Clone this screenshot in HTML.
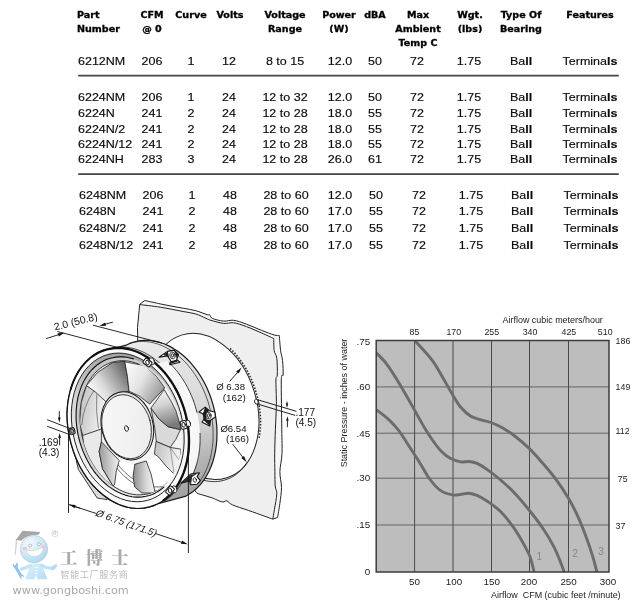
<!DOCTYPE html>
<html lang="en"><head><meta charset="utf-8"><title>6200N Series Fan Specifications</title>
<style>
html,body{margin:0;padding:0;background:#fff;}
body{width:632px;height:610px;position:relative;overflow:hidden;font-family:"Liberation Sans",sans-serif;color:#111;}
#tbl,#art{will-change:transform;}
#tbl span{position:absolute;white-space:nowrap;line-height:20px;}
#tbl span.c{transform:translateX(-50%);}
#tbl span.h.c{transform:translateX(-50%) scaleX(1.079);}
#tbl span.h.l{transform:scaleX(1.079);transform-origin:0 50%;}
#tbl span.d.c{transform:translateX(-50%) scaleX(1.064);}
#tbl span.d.l{transform:scaleX(1.064);transform-origin:0 50%;}
#tbl .d{font-size:11.75px;color:#0a0a0a;-webkit-text-stroke:0.15px #0a0a0a;}
#tbl .h{font-family:"DejaVu Sans","Liberation Sans",sans-serif;font-weight:bold;font-size:8.9px;color:#000;-webkit-text-stroke:0.3px #000;}
.rule{position:absolute;left:78px;width:541px;height:0;border-top:1.6px solid #4a4a4a;}
svg{position:absolute;left:0;top:0;}
svg text{font-family:"Liberation Sans",sans-serif;}
</style></head><body>
<div id="tbl">
<span class="h l" style="left:77.1px;top:5.12px">Part</span>
<span class="h l" style="left:77.1px;top:19.32px">Number</span>
<span class="h c" style="left:152.2px;top:5.12px">CFM</span>
<span class="h c" style="left:152.2px;top:19.32px">@ 0</span>
<span class="h c" style="left:190.7px;top:5.12px">Curve</span>
<span class="h c" style="left:229.9px;top:5.12px">Volts</span>
<span class="h c" style="left:284.8px;top:5.12px">Voltage</span>
<span class="h c" style="left:284.8px;top:19.32px">Range</span>
<span class="h c" style="left:339.2px;top:5.12px">Power</span>
<span class="h c" style="left:339.2px;top:19.32px">(W)</span>
<span class="h c" style="left:375.4px;top:5.12px">dBA</span>
<span class="h c" style="left:417.8px;top:5.12px">Max</span>
<span class="h c" style="left:417.8px;top:19.32px">Ambient</span>
<span class="h c" style="left:417.8px;top:33.42px">Temp C</span>
<span class="h c" style="left:469.5px;top:5.12px">Wgt.</span>
<span class="h c" style="left:469.5px;top:19.32px">(lbs)</span>
<span class="h c" style="left:520.6px;top:5.12px">Type Of</span>
<span class="h c" style="left:520.6px;top:19.32px">Bearing</span>
<span class="h c" style="left:589.5px;top:5.12px">Features</span>
<span class="d l" style="left:77.7px;top:50.83px">6212NM</span>
<span class="d c" style="left:151.9px;top:50.83px">206</span>
<span class="d c" style="left:190.6px;top:50.83px">1</span>
<span class="d c" style="left:228.6px;top:50.83px">12</span>
<span class="d c" style="left:285.2px;top:50.83px">8 to 15</span>
<span class="d c" style="left:339.7px;top:50.83px">12.0</span>
<span class="d c" style="left:375.0px;top:50.83px">50</span>
<span class="d c" style="left:417.2px;top:50.83px">72</span>
<span class="d c" style="left:469.4px;top:50.83px">1.75</span>
<span class="d c" style="left:521.1px;top:50.83px">Ba<b>ll</b></span>
<span class="d c" style="left:589.7px;top:50.83px">Termina<b>ls</b></span>
<span class="d l" style="left:77.7px;top:86.63px">6224NM</span>
<span class="d c" style="left:151.9px;top:86.63px">206</span>
<span class="d c" style="left:190.6px;top:86.63px">1</span>
<span class="d c" style="left:228.6px;top:86.63px">24</span>
<span class="d c" style="left:285.2px;top:86.63px">12 to 32</span>
<span class="d c" style="left:339.7px;top:86.63px">12.0</span>
<span class="d c" style="left:375.0px;top:86.63px">50</span>
<span class="d c" style="left:417.2px;top:86.63px">72</span>
<span class="d c" style="left:469.4px;top:86.63px">1.75</span>
<span class="d c" style="left:521.1px;top:86.63px">Ba<b>ll</b></span>
<span class="d c" style="left:589.7px;top:86.63px">Termina<b>ls</b></span>
<span class="d l" style="left:77.7px;top:103.23px">6224N</span>
<span class="d c" style="left:151.9px;top:103.23px">241</span>
<span class="d c" style="left:190.6px;top:103.23px">2</span>
<span class="d c" style="left:228.6px;top:103.23px">24</span>
<span class="d c" style="left:285.2px;top:103.23px">12 to 28</span>
<span class="d c" style="left:339.7px;top:103.23px">18.0</span>
<span class="d c" style="left:375.0px;top:103.23px">55</span>
<span class="d c" style="left:417.2px;top:103.23px">72</span>
<span class="d c" style="left:469.4px;top:103.23px">1.75</span>
<span class="d c" style="left:521.1px;top:103.23px">Ba<b>ll</b></span>
<span class="d c" style="left:589.7px;top:103.23px">Termina<b>ls</b></span>
<span class="d l" style="left:77.7px;top:118.63px">6224N/2</span>
<span class="d c" style="left:151.9px;top:118.63px">241</span>
<span class="d c" style="left:190.6px;top:118.63px">2</span>
<span class="d c" style="left:228.6px;top:118.63px">24</span>
<span class="d c" style="left:285.2px;top:118.63px">12 to 28</span>
<span class="d c" style="left:339.7px;top:118.63px">18.0</span>
<span class="d c" style="left:375.0px;top:118.63px">55</span>
<span class="d c" style="left:417.2px;top:118.63px">72</span>
<span class="d c" style="left:469.4px;top:118.63px">1.75</span>
<span class="d c" style="left:521.1px;top:118.63px">Ba<b>ll</b></span>
<span class="d c" style="left:589.7px;top:118.63px">Termina<b>ls</b></span>
<span class="d l" style="left:77.7px;top:134.03px">6224N/12</span>
<span class="d c" style="left:151.9px;top:134.03px">241</span>
<span class="d c" style="left:190.6px;top:134.03px">2</span>
<span class="d c" style="left:228.6px;top:134.03px">24</span>
<span class="d c" style="left:285.2px;top:134.03px">12 to 28</span>
<span class="d c" style="left:339.7px;top:134.03px">18.0</span>
<span class="d c" style="left:375.0px;top:134.03px">55</span>
<span class="d c" style="left:417.2px;top:134.03px">72</span>
<span class="d c" style="left:469.4px;top:134.03px">1.75</span>
<span class="d c" style="left:521.1px;top:134.03px">Ba<b>ll</b></span>
<span class="d c" style="left:589.7px;top:134.03px">Termina<b>ls</b></span>
<span class="d l" style="left:77.7px;top:149.13px">6224NH</span>
<span class="d c" style="left:151.9px;top:149.13px">283</span>
<span class="d c" style="left:190.6px;top:149.13px">3</span>
<span class="d c" style="left:228.6px;top:149.13px">24</span>
<span class="d c" style="left:285.2px;top:149.13px">12 to 28</span>
<span class="d c" style="left:339.7px;top:149.13px">26.0</span>
<span class="d c" style="left:375.0px;top:149.13px">61</span>
<span class="d c" style="left:417.2px;top:149.13px">72</span>
<span class="d c" style="left:469.4px;top:149.13px">1.75</span>
<span class="d c" style="left:521.1px;top:149.13px">Ba<b>ll</b></span>
<span class="d c" style="left:589.7px;top:149.13px">Termina<b>ls</b></span>
<span class="d l" style="left:79.0px;top:184.83px">6248NM</span>
<span class="d c" style="left:153.2px;top:184.83px">206</span>
<span class="d c" style="left:191.9px;top:184.83px">1</span>
<span class="d c" style="left:229.9px;top:184.83px">48</span>
<span class="d c" style="left:285.8px;top:184.83px">28 to 60</span>
<span class="d c" style="left:340.3px;top:184.83px">12.0</span>
<span class="d c" style="left:376.3px;top:184.83px">50</span>
<span class="d c" style="left:418.5px;top:184.83px">72</span>
<span class="d c" style="left:470.7px;top:184.83px">1.75</span>
<span class="d c" style="left:522.4px;top:184.83px">Ba<b>ll</b></span>
<span class="d c" style="left:591.0px;top:184.83px">Termina<b>ls</b></span>
<span class="d l" style="left:79.0px;top:201.43px">6248N</span>
<span class="d c" style="left:153.2px;top:201.43px">241</span>
<span class="d c" style="left:191.9px;top:201.43px">2</span>
<span class="d c" style="left:229.9px;top:201.43px">48</span>
<span class="d c" style="left:285.8px;top:201.43px">28 to 60</span>
<span class="d c" style="left:340.3px;top:201.43px">17.0</span>
<span class="d c" style="left:376.3px;top:201.43px">55</span>
<span class="d c" style="left:418.5px;top:201.43px">72</span>
<span class="d c" style="left:470.7px;top:201.43px">1.75</span>
<span class="d c" style="left:522.4px;top:201.43px">Ba<b>ll</b></span>
<span class="d c" style="left:591.0px;top:201.43px">Termina<b>ls</b></span>
<span class="d l" style="left:79.0px;top:218.03px">6248N/2</span>
<span class="d c" style="left:153.2px;top:218.03px">241</span>
<span class="d c" style="left:191.9px;top:218.03px">2</span>
<span class="d c" style="left:229.9px;top:218.03px">48</span>
<span class="d c" style="left:285.8px;top:218.03px">28 to 60</span>
<span class="d c" style="left:340.3px;top:218.03px">17.0</span>
<span class="d c" style="left:376.3px;top:218.03px">55</span>
<span class="d c" style="left:418.5px;top:218.03px">72</span>
<span class="d c" style="left:470.7px;top:218.03px">1.75</span>
<span class="d c" style="left:522.4px;top:218.03px">Ba<b>ll</b></span>
<span class="d c" style="left:591.0px;top:218.03px">Termina<b>ls</b></span>
<span class="d l" style="left:79.0px;top:234.73px">6248N/12</span>
<span class="d c" style="left:153.2px;top:234.73px">241</span>
<span class="d c" style="left:191.9px;top:234.73px">2</span>
<span class="d c" style="left:229.9px;top:234.73px">48</span>
<span class="d c" style="left:285.8px;top:234.73px">28 to 60</span>
<span class="d c" style="left:340.3px;top:234.73px">17.0</span>
<span class="d c" style="left:376.3px;top:234.73px">55</span>
<span class="d c" style="left:418.5px;top:234.73px">72</span>
<span class="d c" style="left:470.7px;top:234.73px">1.75</span>
<span class="d c" style="left:522.4px;top:234.73px">Ba<b>ll</b></span>
<span class="d c" style="left:591.0px;top:234.73px">Termina<b>ls</b></span>
</div>
<svg id="art" width="632" height="610" viewBox="0 0 632 610">
<g id="rules" stroke="#454545" stroke-width="1.7"><line x1="78.2" y1="75.6" x2="618.8" y2="75.6"/><line x1="78.2" y1="174.1" x2="618.8" y2="174.1"/></g>
<g id="fan" stroke-linejoin="round" stroke-linecap="round">
<defs>
<linearGradient id="gA" x1="0.1" y1="0.85" x2="1" y2="0.3"><stop offset="0" stop-color="#fff"/><stop offset="0.35" stop-color="#dcdcdc"/><stop offset="0.72" stop-color="#9c9c9c"/><stop offset="1" stop-color="#666"/></linearGradient>
<linearGradient id="gB" x1="0" y1="0" x2="1" y2="0.6"><stop offset="0" stop-color="#fff"/><stop offset="0.5" stop-color="#e4e4e4"/><stop offset="1" stop-color="#9a9a9a"/></linearGradient>
<linearGradient id="gC" x1="0" y1="0" x2="0.8" y2="1"><stop offset="0" stop-color="#fff"/><stop offset="0.5" stop-color="#d0d0d0"/><stop offset="1" stop-color="#808080"/></linearGradient>
<linearGradient id="gD" x1="0" y1="0" x2="1" y2="0.3"><stop offset="0" stop-color="#bdbdbd"/><stop offset="1" stop-color="#f4f4f4"/></linearGradient>
<linearGradient id="gE" x1="0" y1="0" x2="1" y2="0"><stop offset="0" stop-color="#8c8c8c"/><stop offset="0.6" stop-color="#d8d8d8"/><stop offset="1" stop-color="#f6f6f6"/></linearGradient>
<linearGradient id="gF" x1="0" y1="0" x2="1" y2="0"><stop offset="0" stop-color="#9a9a9a"/><stop offset="1" stop-color="#f2f2f2"/></linearGradient>
<linearGradient id="gBore" x1="0" y1="0.2" x2="0.6" y2="1"><stop offset="0" stop-color="#c2c2c2"/><stop offset="0.5" stop-color="#d6d6d6"/><stop offset="1" stop-color="#fafafa"/></linearGradient>
<linearGradient id="gBevel" x1="0.2" y1="1" x2="0.5" y2="0"><stop offset="0" stop-color="#fbfbfb"/><stop offset="0.4" stop-color="#ececec"/><stop offset="0.7" stop-color="#d4d4d4"/><stop offset="1" stop-color="#a2a2a2"/></linearGradient>
<linearGradient id="gV" x1="0" y1="0" x2="0.25" y2="1"><stop offset="0" stop-color="#fcfcfc"/><stop offset="0.45" stop-color="#d2d2d2"/><stop offset="1" stop-color="#7a7a7a"/></linearGradient>
<linearGradient id="gSide" x1="0.3" y1="0" x2="0.5" y2="1"><stop offset="0" stop-color="#ececec"/><stop offset="0.55" stop-color="#d6d6d6"/><stop offset="0.8" stop-color="#b4b4b4"/><stop offset="1" stop-color="#a0a0a0"/></linearGradient>
<linearGradient id="gHub" x1="0" y1="0" x2="1" y2="0.5"><stop offset="0" stop-color="#f9f9f9"/><stop offset="1" stop-color="#ededed"/></linearGradient>
</defs>
<path d="M145.1,300.6C147.6,301.2 155.7,302.9 160.3,303.9C165.0,304.9 169.2,305.7 173.0,306.4C176.8,307.1 179.3,307.5 183.1,308.2C186.9,308.9 191.8,309.6 195.8,310.7C199.8,311.8 204.9,314.0 207.2,314.7C209.5,315.4 208.9,314.1 209.7,314.7C210.5,315.3 209.9,317.2 212.2,318.3C214.5,319.4 220.0,320.8 223.6,321.1C227.2,321.4 229.9,319.8 233.7,320.3C237.5,320.8 241.8,322.4 246.4,324.1C251.1,325.8 257.0,328.6 261.6,330.4C266.2,332.2 271.2,334.1 274.2,335.0C277.1,335.9 278.4,335.4 279.3,335.5C279.5,338.0 280.1,346.5 280.6,350.7C281.2,354.9 282.2,356.8 282.6,360.8C283.0,364.9 283.3,371.8 283.1,375.0C282.9,378.2 281.5,371.0 281.3,380.0C281.1,389.0 281.7,416.9 281.8,429.2C281.9,441.5 282.3,446.7 282.0,453.8C281.7,460.9 280.0,466.0 279.9,471.6C279.8,477.2 281.5,482.2 281.5,487.5C281.5,492.8 280.5,498.3 279.9,503.3C279.2,508.3 278.0,515.1 277.6,517.5L272.8,519.1 L140.1,304.6Z" fill="#f6f6f6" stroke="#222" stroke-width="1"/>
<path d="M140.1,304.6C143.5,305.0 153.1,306.1 160.3,307.2C167.5,308.3 177.2,310.4 183.1,311.5C189.0,312.6 192.0,312.9 195.8,314.0C199.6,315.1 203.4,317.2 205.9,318.3C208.4,319.4 208.0,319.5 210.9,320.3C213.8,321.1 219.8,323.0 223.6,323.4C227.4,323.8 229.9,322.3 233.7,322.8C237.5,323.3 241.8,324.9 246.4,326.6C251.1,328.3 257.1,331.0 261.6,333.0C266.2,335.0 271.7,337.6 273.7,338.5C273.8,340.5 273.7,347.4 274.2,350.7C274.7,354.0 276.3,354.2 276.8,358.3C277.3,362.4 277.5,371.4 277.3,375.0C277.1,378.6 276.0,375.1 275.9,380.0C275.8,384.9 276.5,396.4 276.4,404.6C276.3,412.8 275.7,421.0 275.4,429.2C275.1,437.4 274.8,446.7 274.7,453.8C274.6,460.9 274.8,466.2 274.9,471.6C275.0,477.0 274.9,482.2 275.2,485.9C275.5,489.6 276.9,489.9 276.8,493.8C276.7,497.8 275.1,505.4 274.4,509.6C273.7,513.8 273.1,517.5 272.8,519.1C271.4,518.6 268.2,517.5 264.1,516.0C260.0,514.5 253.6,512.2 248.3,510.4C243.0,508.5 236.1,506.5 232.5,504.9C228.9,503.3 228.5,501.4 226.9,500.9C225.3,500.4 224.3,502.0 223.0,502.0C221.7,502.0 220.8,501.6 219.0,500.9C217.2,500.2 214.4,498.7 211.9,497.8C209.4,496.9 206.5,496.2 204.0,495.4C201.5,494.6 198.6,494.1 196.9,493.0C195.2,491.9 195.2,490.3 193.7,489.1C192.2,487.9 188.9,486.5 188.0,486.0L160,470 L139.2,440 L137.5,327.9Z" fill="#efefef" stroke="#222" stroke-width="1"/>
<ellipse cx="204.2" cy="406.4" rx="52.2" ry="74.8" transform="rotate(-17.7 204.2 406.4)" fill="#fff" stroke="#222" stroke-width="1"/>
<path d="M247.2,462.4 L246.2,463.8 L245.3,465.1 L244.3,466.4 L243.3,467.6 L242.2,468.8 L241.2,470.0 L240.0,471.1 L238.9,472.1 L237.7,473.1 L236.5,474.0 L235.3,474.9 L234.0,475.8 L232.7,476.6 L231.4,477.3 L230.1,478.0 L228.8,478.6 L227.4,479.1 L226.0,479.6 L224.6,480.1 L223.2,480.5 L221.7,480.8 L220.2,481.1 L218.8,481.3 L217.3,481.5 L215.8,481.6 L214.3,481.6 L212.8,481.6 L211.2,481.5 L209.7,481.4 L208.1,481.2 L206.6,480.9 L205.1,480.6 L203.5,480.2 L202.0,479.8 L200.4,479.3 L198.9,478.8 L197.3,478.2 L195.8,477.5 L194.2,476.8 L192.7,476.1" fill="none" stroke="#222" stroke-width="0.9"/>
<path d="M230.1,348.4 L231.8,350.0 L233.4,351.7 L235.0,353.4 L236.5,355.2 L238.0,357.0 L239.5,358.9 L240.9,360.9 L242.3,362.9 L243.7,365.0 L245.0,367.1 L246.3,369.2 L247.5,371.4 L248.6,373.6 L249.8,375.9 L250.8,378.2 L251.9,380.5 L252.8,382.9 L253.7,385.2 L254.6,387.6 L255.4,390.1 L256.1,392.5 L256.8,395.0 L257.5,397.4 L258.0,399.9 L258.6,402.4 L259.0,404.9 L259.4,407.4 L259.7,409.9 L260.0,412.4 L260.2,414.8 L260.4,417.3 L260.5,419.8 L260.5,422.2 L260.5,424.6 L260.4,427.0 L260.2,429.4 L260.0,431.8 L259.7,434.1 L259.4,436.4 L259.0,438.7" fill="none" stroke="#333" stroke-width="1.6" stroke-dasharray="1.6 1.5" stroke-linecap="butt"/>
<path d="M257.2,399.6 L296.0,411.2 M256.2,403.6 L294.8,415.3" stroke="#222" stroke-width="1" fill="none"/>
<ellipse cx="256.4" cy="401.6" rx="1.8" ry="2.6" transform="rotate(-15.2 256.4 401.6)" fill="#fff" stroke="#222" stroke-width="0.9"/>
<path d="M75.2,450 L76.4,461 L78.4,469.5 L97.2,498.0 L107,499.6 L110,490 L90,468 Z" fill="#dcdcdc" stroke="#222" stroke-width="0.9"/>
<path d="M127.0,344.8 L131.2,342.9 L135.7,341.6 L140.3,340.7 L144.9,340.4 L149.7,340.5 L154.4,341.1 L159.2,342.2 L164.0,343.8 L168.7,345.9 L173.3,348.4 L177.9,351.3 L182.3,354.7 L186.5,358.5 L190.5,362.7 L194.4,367.3 L198.0,372.1 L201.3,377.3 L204.4,382.8 L207.2,388.4 L209.6,394.3 L211.7,400.3 L213.5,406.5 L214.9,412.7 L216.0,419.0 L216.7,425.3 L217.0,431.6 L216.9,437.8 L216.5,443.9 L215.7,449.8 L214.5,455.6 L213.0,461.2 L211.1,466.5 L208.9,471.5 L206.3,476.2 L203.5,480.6 L200.3,484.6 L196.9,488.2 L193.2,491.4 L189.3,494.1 L185.2,496.4L157.2,504.0 L152.9,505.9 L148.5,507.2 L143.9,508.1 L139.3,508.4 L134.5,508.3 L129.8,507.7 L125.0,506.6 L120.2,505.0 L115.5,502.9 L110.9,500.4 L106.3,497.4 L101.9,494.1 L97.7,490.2 L93.6,486.1 L89.8,481.5 L86.2,476.7 L82.9,471.5 L79.8,466.0 L77.0,460.4 L74.6,454.5 L72.5,448.5 L70.7,442.3 L69.3,436.1 L68.2,429.8 L67.5,423.5 L67.2,417.2 L67.2,411.0 L67.7,404.9 L68.5,399.0 L69.7,393.2 L71.2,387.6 L73.1,382.3 L75.3,377.3 L77.9,372.6 L80.7,368.2 L83.9,364.2 L87.3,360.6 L91.0,357.4 L94.9,354.7 L99.0,352.4Z" fill="url(#gSide)" stroke="#1a1a1a" stroke-width="1.2"/>
<path d="M130.8,342.9 L134.6,342.1 L138.5,341.6 L142.4,341.4 L146.3,341.6 L150.3,342.1 L154.3,343.0 L158.3,344.2 L162.2,345.7 L166.1,347.6 L170.0,349.7 L173.8,352.2 L177.4,355.0 L181.0,358.1 L184.5,361.4 L187.8,365.0 L190.9,368.8 L193.9,372.9 L196.7,377.2 L199.4,381.7 L201.8,386.3 L204.0,391.1 L206.0,396.0 L207.8,401.0 L209.3,406.1 L210.6,411.3 L211.6,416.6 L212.4,421.8 L212.9,427.1 L213.1,432.3 L213.1,437.5 L212.9,442.6 L212.3,447.6 L211.5,452.5 L210.5,457.3 L209.2,461.9 L207.7,466.4 L205.9,470.6 L203.9,474.7 L201.7,478.5 L199.3,482.1" fill="none" stroke="#333" stroke-width="0.8"/>
<path d="M112.2,348.0 L116.4,347.3 L120.7,347.0 L125.1,347.1 L129.5,347.7 L133.9,348.6 L138.3,350.0 L142.7,351.8 L147.0,354.0 L151.2,356.5 L155.3,359.5 L159.3,362.8 L163.2,366.4 L166.9,370.3 L170.4,374.6 L173.7,379.1 L176.7,383.9 L179.6,388.9 L182.2,394.1 L184.5,399.4 L186.5,405.0 L188.3,410.6 L189.8,416.3 L190.9,422.1 L191.8,427.9 L192.3,433.7 L192.5,439.5 L192.4,445.2 L192.0,450.8 L191.2,456.3 L190.2,461.6 L188.8,466.8 L187.1,471.7 L185.2,476.5 L182.9,480.9 L180.4,485.1 L177.7,489.0 L174.7,492.5 L171.4,495.7 L168.0,498.6 L164.4,501.1" fill="none" stroke="#222" stroke-width="0.8"/>
<path d="M156.2,364.0 L158.4,366.0 L160.6,368.2 L162.7,370.5 L164.7,372.8 L166.7,375.3 L168.6,377.8 L170.5,380.4 L172.3,383.2 L174.0,386.0 L175.6,388.8 L177.1,391.8 L178.6,394.7 L180.0,397.8 L181.2,400.9 L182.4,404.1 L183.5,407.2 L184.5,410.5 L185.4,413.7 L186.2,417.0 L186.9,420.3 L187.5,423.6 L188.0,427.0 L188.4,430.3 L188.7,433.6 L188.9,436.9 L189.0,440.2 L189.0,443.5 L188.9,446.8 L188.7,450.0 L188.3,453.2 L187.9,456.3 L187.4,459.4 L186.7,462.4 L186.0,465.4 L185.1,468.3 L184.2,471.2 L183.2,473.9 L182.1,476.6 L180.8,479.2 L179.5,481.8L190.6,478.7 L191.9,476.2 L193.1,473.6 L194.3,470.9 L195.3,468.1 L196.2,465.3 L197.1,462.4 L197.8,459.4 L198.5,456.4 L199.0,453.3 L199.4,450.1 L199.8,447.0 L200.0,443.7 L200.1,440.5 L200.1,437.2 L200.0,433.9 L199.8,430.6 L199.5,427.3 L199.1,423.9 L198.6,420.6 L198.0,417.3 L197.3,414.0 L196.5,410.7 L195.6,407.5 L194.6,404.2 L193.5,401.0 L192.3,397.9 L191.0,394.8 L189.7,391.7 L188.2,388.7 L186.7,385.8 L185.1,382.9 L183.4,380.1 L181.6,377.4 L179.7,374.8 L177.8,372.3 L175.8,369.8 L173.8,367.4 L171.7,365.2 L169.5,363.0 L167.3,361.0Z" fill="#f7f7f7" stroke="none"/>
<path d="M169.1,362.7 L170.1,363.6 L171.1,364.6 L172.0,365.6 L173.0,366.6 L173.9,367.6 L174.8,368.6 L175.7,369.7 L176.6,370.7 L177.5,371.8 L178.3,372.9 L179.2,374.0 L180.0,375.2 L180.8,376.3 L181.6,377.5 L182.4,378.7 L183.2,379.9 L184.0,381.1 L184.7,382.4 L185.5,383.6 L186.2,384.9 L186.9,386.2 L187.6,387.5 L188.2,388.8 L188.9,390.1 L189.5,391.4 L190.1,392.8 L190.8,394.1 L191.3,395.5 L191.9,396.8 L192.5,398.2 L193.0,399.6 L193.5,401.0 L194.0,402.4 L194.5,403.8 L194.9,405.2 L195.4,406.7 L195.8,408.1 L196.2,409.5 L196.6,411.0 L197.0,412.4" fill="none" stroke="#222" stroke-width="0.9"/>
<path d="M200.0,433.4 L200.1,434.6 L200.1,435.7 L200.1,436.9 L200.1,438.1 L200.1,439.3 L200.1,440.4 L200.1,441.6 L200.0,442.8 L200.0,443.9 L199.9,445.1 L199.8,446.2 L199.7,447.4 L199.6,448.5 L199.5,449.7 L199.3,450.8 L199.2,451.9 L199.0,453.0 L198.9,454.2 L198.7,455.3 L198.5,456.4 L198.2,457.5 L198.0,458.5 L197.8,459.6 L197.5,460.7 L197.2,461.8 L197.0,462.8 L196.7,463.9 L196.4,464.9 L196.0,465.9 L195.7,467.0 L195.4,468.0 L195.0,469.0 L194.6,470.0 L194.3,470.9 L193.9,471.9 L193.5,472.9 L193.0,473.8 L192.6,474.8 L192.2,475.7 L191.7,476.6" fill="none" stroke="#222" stroke-width="0.9"/>
<ellipse cx="128.1" cy="428.2" rx="59.1" ry="81.6" transform="rotate(-15.2 128.1 428.2)" fill="#fafafa" stroke="#111" stroke-width="1.3"/>
<path d="M70.6,389.5 L71.0,388.4 L71.3,387.3 L71.6,386.3 L72.0,385.2 L72.4,384.2 L72.7,383.2 L73.1,382.2 L73.5,381.2 L74.0,380.2 L74.4,379.2 L74.8,378.3 L75.3,377.3 L75.8,376.4 L76.3,375.4 L76.8,374.5 L77.3,373.6 L77.8,372.7 L78.3,371.8 L78.8,371.0 L79.4,370.1 L80.0,369.3 L80.5,368.5 L81.1,367.6 L81.7,366.8 L82.3,366.1 L83.0,365.3 L83.6,364.5 L84.2,363.8 L84.9,363.1 L85.5,362.4 L86.2,361.7 L86.9,361.0 L87.6,360.3 L88.3,359.7 L89.0,359.1 L89.7,358.4 L90.4,357.8 L91.2,357.3 L91.9,356.7 L92.7,356.1" fill="none" stroke="#111" stroke-width="1.8"/>
<path d="M92.7,356.1 L95.3,354.4 L98.0,352.8 L100.9,351.5 L103.7,350.4 L106.7,349.5 L109.7,348.8 L112.8,348.3 L115.9,348.0 L119.0,348.0 L122.2,348.1 L125.4,348.5 L128.6,349.1 L131.8,350.0 L134.9,351.0 L138.1,352.3 L141.2,353.7 L144.3,355.4 L147.4,357.2 L150.4,359.3 L153.3,361.6 L156.2,364.0 L159.0,366.6 L161.7,369.4 L164.3,372.3 L166.8,375.4 L169.2,378.6 L171.5,382.0 L173.7,385.5 L175.7,389.1 L177.7,392.8 L179.5,396.7 L181.1,400.6 L182.6,404.6 L184.0,408.6 L185.2,412.7 L186.2,416.8 L187.1,421.0 L187.8,425.2 L188.4,429.4 L188.7,433.6 L189.0,437.8 L189.0,441.9 L188.9,446.1 L188.6,450.1 L188.2,454.1 L187.6,458.1 L186.8,461.9 L185.9,465.7 L184.8,469.4 L183.6,472.9 L182.2,476.3 L180.6,479.6 L178.9,482.8 L177.1,485.8 L175.2,488.6 L173.1,491.3 L170.8,493.8 L168.5,496.2 L166.1,498.3 L163.5,500.3" fill="none" stroke="#111" stroke-width="2.3"/>
<ellipse cx="127.8" cy="427.4" rx="54.8" ry="75.6" transform="rotate(-15.2 127.8 427.4)" fill="url(#gBevel)" stroke="#222" stroke-width="0.9"/>
<ellipse cx="129.3" cy="427.0" rx="51.7" ry="71.3" transform="rotate(-15.2 129.3 427.0)" fill="url(#gBore)"/>
<path d="M163.9,487.0 L161.2,489.3 L158.3,491.2 L155.4,492.9 L152.3,494.4 L149.1,495.5 L145.8,496.3 L142.5,496.9 L139.1,497.1 L135.6,497.1 L132.1,496.7 L128.7,496.0 L125.2,495.1 L121.7,493.8 L118.3,492.3 L114.9,490.5 L111.6,488.4 L108.3,486.1 L105.2,483.5 L102.1,480.6 L99.2,477.6 L96.4,474.3 L93.7,470.8 L91.2,467.1 L88.9,463.3 L86.7,459.3 L84.7,455.1 L82.9,450.9 L81.3,446.5 L79.9,442.0 L78.7,437.5 L77.7,433.0 L77.0,428.4 L76.4,423.8 L76.1,419.2 L76.1,414.7 L76.2,410.2 L76.6,405.8 L77.2,401.5 L78.0,397.2 L79.1,393.1 L80.4,389.2 L81.8,385.4 L83.5,381.8 L85.4,378.4 L87.5,375.2 L89.7,372.2 L92.1,369.5 L94.7,367.0 L97.4,364.7 L100.3,362.8 L103.2,361.1 L106.3,359.6 L109.5,358.5 L112.8,357.7 L116.1,357.1 L119.5,356.9 L123.0,356.9 L126.5,357.3 L129.9,358.0 L133.4,358.9" fill="none" stroke="#111" stroke-width="1.1"/>
<clipPath id="bore"><ellipse cx="130.9" cy="427.8" rx="49.4" ry="68.2" transform="rotate(-15.2 130.9 427.8)" /></clipPath>
<ellipse cx="130.9" cy="427.8" rx="49.4" ry="68.2" transform="rotate(-15.2 130.9 427.8)" fill="#f3f3f3"/>
<path d="M167.3,482.0 L164.7,484.5 L162.1,486.9 L159.2,488.9 L156.3,490.6 L153.2,492.1 L150.0,493.3 L146.8,494.1 L143.4,494.6 L140.0,494.9 L136.6,494.8 L133.1,494.4 L129.6,493.7 L126.1,492.7 L122.7,491.3 L119.3,489.7 L115.9,487.8 L112.6,485.6 L109.4,483.2 L106.3,480.5 L103.3,477.5 L100.5,474.3 L97.8,470.9 L95.2,467.3 L92.8,463.5 L90.6,459.5 L88.5,455.4 L86.7,451.2 L85.1,446.8 L83.7,442.4 L82.5,437.9 L81.5,433.3 L80.8,428.7 L80.3,424.2 L80.0,419.6 L80.0,415.1 L80.2,410.6 L80.7,406.2 L81.3,401.9 L82.3,397.8 L83.4,393.7 L84.8,389.9 L86.3,386.2 L88.1,382.7 L90.1,379.4 L92.3,376.3 L94.6,373.5 L97.2,370.9 L99.9,368.6 L102.7,366.6 L105.7,364.9 L108.7,363.4 L111.9,362.3 L115.2,361.5 L118.5,360.9 L121.9,360.7 L125.4,360.8 L128.9,361.2 L132.3,362.0 L135.8,363.0 L139.3,364.3" fill="none" stroke="#222" stroke-width="0.9"/>
<g clip-path="url(#bore)" stroke="#222" stroke-width="0.8">
<path d="M118.6,459.4 L134.7,465.2 L139.3,489.3 L120.9,489.3 L114.6,484.7Z" fill="#fff" stroke="none"/>
<path d="M146.2,461.0 L169.2,448.7 L181.0,449.5 L179.8,461.0 L174.1,474.1 L169.2,492.1 L155.2,493.0 L151.1,474.1Z" fill="#fff" stroke="none"/>
<path d="M200.6,444.6 L200.0,448.2 L199.3,451.8 L198.4,455.2 L197.4,458.6 L196.2,461.8 L194.8,464.9 L193.3,467.9 L191.7,470.7 L189.9,473.4 L188.0,475.9 L186.0,478.2 L183.8,480.4 L181.5,482.4 L179.2,484.1 L176.7,485.7 L174.2,487.1 L171.5,488.3 L168.8,489.2 L166.1,490.0 L163.3,490.5 L160.4,490.8 L157.5,490.9 L154.6,490.7 L151.6,490.4 L148.7,489.8 L145.8,489.0 L142.8,488.0 L139.9,486.8 L137.0,485.4 L134.2,483.8 L131.4,481.9 L128.7,479.9 L126.0,477.7 L123.4,475.4 L120.9,472.8 L118.5,470.1 L116.1,467.2 L113.9,464.2 L111.8,461.1 L109.8,457.8" fill="none" stroke="#333" stroke-width="0.7"/>
<path d="M197.7,443.3 L197.1,446.7 L196.4,450.1 L195.6,453.3 L194.6,456.5 L193.5,459.5 L192.2,462.5 L190.8,465.3 L189.2,467.9 L187.6,470.5 L185.8,472.8 L183.8,475.0 L181.8,477.1 L179.7,478.9 L177.5,480.6 L175.1,482.1 L172.7,483.4 L170.3,484.5 L167.7,485.4 L165.1,486.1 L162.5,486.6 L159.8,486.9 L157.0,487.0 L154.3,486.8 L151.5,486.5 L148.7,485.9 L146.0,485.2 L143.2,484.3 L140.5,483.1 L137.7,481.8 L135.1,480.2 L132.4,478.5 L129.8,476.6 L127.3,474.6 L124.9,472.3 L122.5,469.9 L120.2,467.4 L118.0,464.7 L116.0,461.8 L114.0,458.9 L112.1,455.8" fill="none" stroke="#333" stroke-width="0.7"/>
<path d="M151.2,408.4 L158.7,418.7 L167.9,426.7 L180.5,429.6 L175.9,439.3 L170.2,447.4 L156.4,441.6 L154.7,427.9Z" fill="#d9d9d9"/>
<path d="M156.4,441.6 L170.2,447.4 L180.5,449.1 L181.0,449.5 L179.8,461.0 L174.1,474.1 L165.9,465.9 L157.7,456.1 L154.7,454.3Z" fill="url(#gD)"/>
<path d="M170.2,447.4 L174.1,474.1 M170.2,447.4 L179.8,461.0" fill="none" stroke="#555" stroke-width="0.5"/>
<path d="M87.0,385.2 L107.1,400.7 L103.6,414.4 L101.3,429.3 L83.0,436.2 L79.5,423.6 L81.2,403.0Z" fill="url(#gD)"/>
<path d="M93.3,391.5 Q83.0,406.4 81.8,424.8 M96.7,394.9 Q95.6,411.0 98.4,428.2" fill="none" stroke="#444" stroke-width="0.6"/>
<path d="M83.0,435.3 L101.4,429.0 L101.4,442.2 L99.1,451.4 L102.5,468.6 L112.9,485.8 L98.0,480.1 L85.3,459.4Z" fill="#e9e9e9"/>
<path d="M101.4,442.2 L99.1,451.4 L102.5,468.6 L112.9,485.8 L114.6,484.7 L116.3,470.9 L119.2,460.6 L109.4,450.2Z" fill="url(#gF)"/>
<path d="M134.7,465.2 L133.0,476.6 L134.7,487.0 L141.9,493.0 L155.2,493.0 L151.1,474.1 L146.2,461.0 L134.8,464.3Z" fill="url(#gE)"/>
<path d="M86.7,385.3 L97.5,372.5 L112.3,362.7 L125.1,361.1 L127.4,376.5 L129.0,391.2 L117.2,395.2 L106.4,402.1 L95.6,392.2Z" fill="url(#gA)"/>
<path d="M125.1,361.9 L144.8,365.7 L156.6,376.5 L164.8,387.9 L149.7,404.0 L138.9,395.8 L129.0,391.2 L127.4,376.5Z" fill="url(#gB)"/>
<path d="M164.4,390.0 L171.3,401.5 L175.9,410.7 L181.1,427.9 L180.5,429.6 L167.9,426.7 L158.7,418.7 L151.2,408.4Z" fill="url(#gV)"/>
</g>
<ellipse cx="127.3" cy="425.9" rx="25.7" ry="34.5" transform="rotate(-15.2 127.3 425.9)" fill="#e2e2e2" stroke="#111" stroke-width="1.0"/>
<ellipse cx="126.6" cy="426.7" rx="24.2" ry="32.5" transform="rotate(-15.2 126.6 426.7)" fill="url(#gHub)" stroke="#222" stroke-width="0.8"/>
<ellipse cx="126.5" cy="428.5" rx="1.9" ry="2.8" transform="rotate(-15.2 126.5 428.5)" fill="#fff" stroke="#222" stroke-width="0.9"/>
<ellipse cx="151.9" cy="361.3" rx="2.5" ry="3.6" transform="rotate(-15.2 151.9 361.3)" fill="#f4f4f4" stroke="#111" stroke-width="0.8"/><g transform="translate(147.5,362.5) rotate(-52)"><rect x="-2.9" y="-4.1" width="5.8" height="8.2" rx="1.2" fill="#f6f6f6" stroke="#111" stroke-width="1.0"/></g><ellipse cx="147.5" cy="362.5" rx="1.7" ry="2.4" transform="rotate(-15.2 147.5 362.5)" fill="#fff" stroke="#111" stroke-width="0.9"/>
<ellipse cx="188.0" cy="423.6" rx="2.5" ry="3.6" transform="rotate(-15.2 188.0 423.6)" fill="#f4f4f4" stroke="#111" stroke-width="0.8"/><g transform="translate(183.6,424.8) rotate(-12)"><rect x="-2.9" y="-4.1" width="5.8" height="8.2" rx="1.2" fill="#f6f6f6" stroke="#111" stroke-width="1.0"/></g><ellipse cx="183.6" cy="424.8" rx="1.7" ry="2.4" transform="rotate(-15.2 183.6 424.8)" fill="#fff" stroke="#111" stroke-width="0.9"/>
<ellipse cx="174.4" cy="489.3" rx="2.5" ry="3.6" transform="rotate(-15.2 174.4 489.3)" fill="#f4f4f4" stroke="#111" stroke-width="0.8"/><g transform="translate(170.0,490.5) rotate(38)"><rect x="-2.9" y="-4.1" width="5.8" height="8.2" rx="1.2" fill="#f6f6f6" stroke="#111" stroke-width="1.0"/></g><ellipse cx="170.0" cy="490.5" rx="1.7" ry="2.4" transform="rotate(-15.2 170.0 490.5)" fill="#fff" stroke="#111" stroke-width="0.9"/>
<g transform="translate(72.2,431.1) rotate(-12)"><rect x="-2.6" y="-3.2" width="5.2" height="6.4" rx="1" fill="#888" stroke="#111" stroke-width="0.9"/><ellipse cx="0" cy="0" rx="1.2" ry="1.7" fill="#ddd" stroke="#111" stroke-width="0.6"/></g>
<path d="M159.0,357.1 L167.5,351.4 L174.1,350.1 L178.5,354.3 L176.7,359.6 L180.0,362.2 L169.7,364.8 L171.1,361.2 L167.5,356.0Z" fill="#fff" stroke="#111" stroke-width="1.1"/>
<path d="M163.0,355.0 L167.9,351.6 L169.2,358.0 L171.1,361.2 L176.7,359.6 L177.7,361.6 L170.2,363.9 L170.5,360.9 L167.5,356.3Z" fill="#1c1c1c"/>
<path d="M174.1,350.4 L178.2,354.3 L176.9,358.9 L175.7,354.7Z" fill="#1c1c1c"/>
<ellipse cx="172.6" cy="355.4" rx="2.7" ry="3.5" transform="rotate(-15.2 172.6 355.4)" fill="#fff" stroke="#111" stroke-width="0.8"/>
<ellipse cx="172.6" cy="355.4" rx="1.2" ry="1.8" transform="rotate(-15.2 172.6 355.4)" fill="#fff" stroke="#111" stroke-width="0.8"/>
<path d="M199.0,412.0 L205.2,407.1 L209.3,410.7 L214.8,412.0 L215.4,417.0 L210.5,420.2 L209.8,426.1 L202.0,422.2 L204.9,417.8 L202.8,413.7Z" fill="#fff" stroke="#111" stroke-width="1.1"/>
<path d="M205.2,407.1 L209.3,410.7 L206.1,413.7 L206.6,419.4 L210.5,420.2 L209.8,426.1 L203.6,420.2 L202.8,413.7Z" fill="#1c1c1c"/>
<ellipse cx="208.6" cy="415.6" rx="2.6" ry="3.4" transform="rotate(-15.2 208.6 415.6)" fill="#fff" stroke="#111" stroke-width="0.8"/>
<ellipse cx="208.6" cy="415.6" rx="1.2" ry="1.8" transform="rotate(-15.2 208.6 415.6)" fill="#fff" stroke="#111" stroke-width="0.8"/>
<path d="M181.0,483.1 L190.5,474.1 L199.5,472.8 L197.0,476.6 L200.3,480.7 L197.0,484.3 L190.5,484.8 L189.7,481.0Z" fill="#fff" stroke="#111" stroke-width="1.1"/>
<path d="M181.0,483.1 L190.5,474.9 L197.0,473.8 L192.1,477.0 L191.1,484.3 L189.7,481.0Z" fill="#2a2a2a"/>
<ellipse cx="194.8" cy="480.0" rx="1.6" ry="2.3" transform="rotate(-15.2 194.8 480)" fill="#fff" stroke="#111" stroke-width="0.8"/>
<g stroke="#111" stroke-width="0.9" fill="none">
<line x1="57.8" y1="331.6" x2="120.5" y2="348.2"/>
<line x1="93.3" y1="325.3" x2="161.6" y2="343.0"/>
<line x1="47.5" y1="419.8" x2="71.1" y2="429.0"/><line x1="47.5" y1="426.4" x2="69.8" y2="434.6"/>
<line x1="68.5" y1="433" x2="68.5" y2="512.5"/><line x1="188.4" y1="426" x2="188.4" y2="552.6"/>
<line x1="69.2" y1="504.7" x2="96.0" y2="513.4"/>
</g>
<line x1="46.5" y1="338.5" x2="58.2" y2="334.8" stroke="#111" stroke-width="0.9"/><path d="M64.4,332.8 L58.7,336.4 L57.7,333.2Z" fill="#111"/>
<line x1="112.5" y1="322.2" x2="105.7" y2="324.1" stroke="#111" stroke-width="0.9"/><path d="M99.4,325.9 L105.2,322.5 L106.1,325.8Z" fill="#111"/>
<line x1="59.3" y1="411.5" x2="59.3" y2="417.6" stroke="#111" stroke-width="0.9"/><path d="M59.3,422.6 L57.9,417.6 L60.7,417.6Z" fill="#111"/>
<line x1="59.6" y1="445.0" x2="59.6" y2="438.0" stroke="#111" stroke-width="0.9"/><path d="M59.6,433.0 L61.0,438.0 L58.2,438.0Z" fill="#111"/>
<line x1="80.0" y1="508.2" x2="75.2" y2="506.6" stroke="#111" stroke-width="0.9"/><path d="M69.0,504.6 L75.7,505.0 L74.6,508.2Z" fill="#111"/>
<line x1="156.5" y1="533.9" x2="181.4" y2="542.2" stroke="#111" stroke-width="0.9"/><path d="M187.6,544.2 L180.9,543.8 L182.0,540.5Z" fill="#111"/>
<line x1="230.0" y1="381.1" x2="237.4" y2="372.5" stroke="#111" stroke-width="0.9"/><path d="M241.6,367.6 L238.7,373.6 L236.1,371.4Z" fill="#111"/>
<line x1="232.9" y1="444.4" x2="242.6" y2="457.0" stroke="#111" stroke-width="0.9"/><path d="M246.6,462.2 L241.3,458.1 L244.0,456.0Z" fill="#111"/>
<line x1="287.0" y1="402.0" x2="287.0" y2="403.6" stroke="#111" stroke-width="0.9"/><path d="M287.0,407.8 L285.7,403.6 L288.3,403.6Z" fill="#111"/>
<line x1="287.4" y1="426.8" x2="287.4" y2="420.8" stroke="#111" stroke-width="0.9"/><path d="M287.4,416.2 L288.7,420.8 L286.1,420.8Z" fill="#111"/>
<g fill="#111" font-size="10">
<text transform="translate(54.9,330.6) rotate(-14.2)" font-size="10.4">2.0 (50.8)</text>
<text x="38.7" y="446.3" font-size="10.1">.169</text><text x="38.7" y="456.4" font-size="10.1">(4.3)</text>
<text transform="translate(94.6,515.6) rotate(19.3) skewX(-12)" font-size="9.9">Ø 6.75 (171.5)</text>
<text x="216.2" y="390.4" font-size="9.6">Ø 6.38</text><text x="222.8" y="400.7" font-size="9.9">(162)</text>
<text x="220.4" y="431.5" font-size="9.6">Ø6.54</text><text x="226.0" y="442.0" font-size="9.9">(166)</text>
<text x="295.4" y="415.6" font-size="10.1">.177</text><text x="295.4" y="425.9" font-size="10.1">(4.5)</text>
</g>
</g>
<g id="logo">
<defs><radialGradient id="rgHead" cx="0.35" cy="0.3" r="0.8"><stop offset="0" stop-color="#f4fbff"/><stop offset="0.45" stop-color="#d3ecfa"/><stop offset="1" stop-color="#a4d5f3"/></radialGradient>
<linearGradient id="lgBody" x1="0" y1="0" x2="1" y2="1"><stop offset="0" stop-color="#e2f3fc"/><stop offset="1" stop-color="#b2dcf5"/></linearGradient></defs>
<g>
<path d="M16.5,539.7 L15.3,554.5" stroke="#d0d0d0" stroke-width="1.3" fill="none"/>
<path d="M29.6,564.1 Q35.5,562.4 41.6,564.1 L44.3,571.2 47.5,579.3 37.6,579.3 36.1,574.7 34.5,579.3 25.2,579.3 28.2,571.2Z" fill="url(#lgBody)"/>
<path d="M30.4,565.8 L21.5,569.1" stroke="#c3e4f7" stroke-width="3.4" stroke-linecap="round" fill="none"/>
<path d="M41.4,565.1 Q48.3,569.7 54.2,567.1" stroke="#bfe2f6" stroke-width="3.2" stroke-linecap="round" fill="none"/>
<path d="M52.0,566.8 Q54.2,563.8 56.9,564.3 Q57.6,567.3 54.7,569.2 Q51.2,571.2 50.7,569.2Z" fill="#b4dcf4"/>
<path d="M13.1,563.5 Q11.9,566.3 14.8,568.3 L19.7,577.1 Q19.7,579.1 21.9,578.9 L20.9,576.9 22.9,576.1 24.3,578.1 Q24.7,575.1 21.9,574.4 L17.6,567.3 Q18.8,563.8 16.6,562.2 L16.0,565.1 14.4,565.3Z" fill="#8cc6ec"/>
<circle cx="34.0" cy="549.1" r="13.7" fill="url(#rgHead)" stroke="#c6c6c6" stroke-width="0.7"/>
<path d="M26.1,550.1 Q34.5,552.0 43.5,546.8 Q42.9,555.5 34.5,556.7 Q27.6,556.5 26.1,550.1Z" fill="#fffef6" stroke="#c9c9c9" stroke-width="0.6"/>
<circle cx="30.1" cy="545.5" r="1.5" fill="#fff" stroke="#aaa" stroke-width="0.8"/>
<circle cx="38.9" cy="544.2" r="1.5" fill="#fff" stroke="#aaa" stroke-width="0.8"/>
<ellipse cx="24.7" cy="548.6" rx="2.3" ry="1.7" fill="#f7bfd3"/>
<ellipse cx="43.8" cy="547.1" rx="2.3" ry="1.7" fill="#f7bfd3"/>
<path d="M15.8,539.9 L22.5,530.7 40.2,531.9 38.6,534.8 Q27.6,534.3 21.2,540.7Z" fill="#a6a6a6"/>
<rect x="34.7" y="567.0" width="3.2" height="1" fill="#fff" opacity="0.8"/>
<rect x="34.7" y="569.9" width="3.2" height="1" fill="#fff" opacity="0.8"/>
<rect x="34.7" y="572.9" width="3.2" height="1" fill="#fff" opacity="0.8"/>
</g>
<circle cx="54.9" cy="533.7" r="3.1" fill="none" stroke="#cfcfcf" stroke-width="0.7"/><text x="54.9" y="535.4" font-size="4.6" text-anchor="middle" fill="#c6c6c6" font-weight="bold">R</text>
<text x="60.0" y="564.2" font-size="17.5" fill="#ababab" style="font-family:'Noto Serif CJK SC','Noto Sans CJK SC',serif;font-weight:900" letter-spacing="8.1">工博士</text>
<text x="60.3" y="578.2" font-size="9.2" fill="#bdbdbd" style="font-family:'Noto Sans CJK SC','WenQuanYi Zen Hei',sans-serif" letter-spacing="0.55">智能工厂服务商</text>
<text x="12.6" y="593.5" font-size="11.25" fill="#a9a9a9" style="font-family:'DejaVu Sans','Liberation Sans',sans-serif">www.gongboshi.com</text>
</g>
<g id="chart">
<rect x="376.2" y="340.5" width="232.8" height="231.5" fill="#bdbdbd"/>
<line x1="414.6" y1="340.5" x2="414.6" y2="572.0" stroke="#4a4a4a" stroke-width="1.0"/>
<line x1="453.0" y1="340.5" x2="453.0" y2="572.0" stroke="#4a4a4a" stroke-width="1.0"/>
<line x1="491.5" y1="340.5" x2="491.5" y2="572.0" stroke="#4a4a4a" stroke-width="1.0"/>
<line x1="529.5" y1="340.5" x2="529.5" y2="572.0" stroke="#4a4a4a" stroke-width="1.0"/>
<line x1="568.5" y1="340.5" x2="568.5" y2="572.0" stroke="#4a4a4a" stroke-width="1.0"/>
<line x1="376.2" y1="386.9" x2="609.0" y2="386.9" stroke="#555" stroke-width="0.85"/>
<line x1="376.2" y1="433.2" x2="609.0" y2="433.2" stroke="#555" stroke-width="0.85"/>
<line x1="376.2" y1="478.2" x2="609.0" y2="478.2" stroke="#555" stroke-width="0.85"/>
<line x1="376.2" y1="525.0" x2="609.0" y2="525.0" stroke="#555" stroke-width="0.85"/>
<clipPath id="pc"><rect x="376.2" y="340.0" width="232.8" height="232.5"/></clipPath>
<g clip-path="url(#pc)" fill="none" stroke="#6c6c6c" stroke-width="2.9" stroke-linecap="butt">
<path d="M376.0,409.6C378.1,411.2 384.7,415.9 388.5,419.4C392.3,422.9 395.7,426.8 398.8,430.7C401.9,434.6 404.4,439.0 407.0,443.0C409.6,447.0 412.1,450.8 414.5,454.5C416.9,458.2 418.9,461.3 421.4,465.4C423.9,469.5 426.6,474.9 429.7,479.0C432.8,483.1 436.2,487.5 440.0,490.1C443.8,492.8 448.9,494.2 452.3,494.9C455.7,495.6 457.8,494.7 460.5,494.4C463.2,494.1 466.1,493.0 468.8,493.2C471.6,493.4 473.9,494.0 477.0,495.3C480.1,496.6 483.4,498.5 487.3,501.2C491.2,503.9 496.1,507.1 500.3,511.3C504.5,515.5 508.8,521.0 512.6,526.2C516.4,531.4 520.0,537.5 522.9,542.6C525.8,547.7 528.2,552.1 530.1,557.0C532.0,561.9 533.5,569.7 534.2,572.2"/>
<path d="M375.8,352.3C377.6,354.2 383.0,359.3 386.5,363.8C390.0,368.3 393.3,373.7 396.7,379.2C400.1,384.7 403.8,391.2 407.0,396.7C410.2,402.2 412.6,406.7 415.7,412.2C418.8,417.7 422.6,424.6 425.6,429.6C428.6,434.6 431.2,438.4 433.8,442.0C436.4,445.6 438.8,448.8 441.5,451.5C444.2,454.2 447.0,456.5 450.2,458.2C453.4,459.9 457.4,461.2 460.5,461.8C463.6,462.4 466.1,461.2 468.8,461.5C471.6,461.8 473.9,462.0 477.0,463.4C480.1,464.8 483.5,466.9 487.3,469.6C491.1,472.3 495.4,475.6 500.0,479.5C504.6,483.4 509.9,488.1 514.7,493.2C519.6,498.3 524.3,504.0 529.1,510.0C533.9,516.0 539.4,523.1 543.5,529.2C547.6,535.3 550.9,541.0 553.8,546.7C556.7,552.4 559.3,559.0 561.0,563.2C562.7,567.5 563.6,570.7 564.1,572.2"/>
<path d="M415.2,341.0C417.9,344.1 427.2,353.8 431.7,359.7C436.2,365.6 438.7,370.7 442.0,376.2C445.3,381.7 448.2,387.5 451.3,392.6C454.4,397.7 457.2,403.1 460.5,407.0C463.8,410.9 467.4,414.2 470.8,416.3C474.2,418.4 477.7,418.8 481.1,419.8C484.5,420.8 487.5,421.2 491.0,422.5C494.5,423.8 498.4,425.6 502.3,427.8C506.2,430.1 510.2,432.6 514.7,436.0C519.2,439.4 524.7,444.1 529.1,448.4C533.5,452.7 537.0,456.6 541.4,461.7C545.8,466.8 551.3,473.1 555.8,479.2C560.3,485.3 564.8,492.1 568.6,498.5C572.4,504.9 575.5,511.2 578.5,517.9C581.5,524.6 584.3,532.0 586.7,538.5C589.1,545.0 591.2,551.4 592.9,557.0C594.6,562.6 596.3,569.7 597.0,572.2"/>
</g>
<rect x="376.2" y="340.5" width="232.8" height="231.5" fill="none" stroke="#3c3c3c" stroke-width="1.5"/>
<g fill="#222">
<g font-size="8.25">
<text transform="translate(414.4,334.5) scale(1.07,1)" text-anchor="middle">85</text>
<text transform="translate(453.8,334.5) scale(1.07,1)" text-anchor="middle">170</text>
<text transform="translate(491.8,334.5) scale(1.07,1)" text-anchor="middle">255</text>
<text transform="translate(530.0,334.5) scale(1.07,1)" text-anchor="middle">340</text>
<text transform="translate(568.9,334.5) scale(1.07,1)" text-anchor="middle">425</text>
<text transform="translate(605.2,334.5) scale(1.07,1)" text-anchor="middle">510</text>
<text transform="translate(615.6,344.4) scale(1.07,1)" text-anchor="start">186</text>
<text transform="translate(615.6,390.1) scale(1.07,1)" text-anchor="start">149</text>
<text transform="translate(615.6,434.4) scale(1.07,1)" text-anchor="start">112</text>
<text transform="translate(617.8,482.3) scale(1.07,1)" text-anchor="start">75</text>
<text transform="translate(615.6,528.8) scale(1.07,1)" text-anchor="start">37</text>
</g>
<g font-size="8.95">
<text x="552.7" y="323.3" text-anchor="middle">Airflow cubic meters/hour</text>
<text x="620.6" y="597.7" text-anchor="end" xml:space="preserve">Airflow  CFM (cubic feet /minute)</text>
<text transform="translate(346.8,403) rotate(-90)" text-anchor="middle">Static Pressure - inches of water</text>
</g>
<g font-size="9.2">
<text transform="translate(370.2,345.3) scale(1.07,1)" text-anchor="end">.75</text>
<text transform="translate(370.2,390.2) scale(1.07,1)" text-anchor="end">.60</text>
<text transform="translate(370.2,437.0) scale(1.07,1)" text-anchor="end">.45</text>
<text transform="translate(370.2,480.8) scale(1.07,1)" text-anchor="end">.30</text>
<text transform="translate(370.2,527.6) scale(1.07,1)" text-anchor="end">.15</text>
<text transform="translate(370.2,575.1) scale(1.07,1)" text-anchor="end">0</text>
<text transform="translate(414.4,585.3) scale(1.07,1)" text-anchor="middle">50</text>
<text transform="translate(454.0,585.3) scale(1.07,1)" text-anchor="middle">100</text>
<text transform="translate(491.8,585.3) scale(1.07,1)" text-anchor="middle">150</text>
<text transform="translate(528.9,585.3) scale(1.07,1)" text-anchor="middle">200</text>
<text transform="translate(568.6,585.3) scale(1.07,1)" text-anchor="middle">250</text>
<text transform="translate(607.9,585.3) scale(1.07,1)" text-anchor="middle">300</text>
</g>
</g>
<g font-size="10.2" fill="#858585"><text x="539.4" y="559.7" text-anchor="middle">1</text><text x="575" y="557.3" text-anchor="middle">2</text><text x="601" y="554.9" text-anchor="middle">3</text></g>
</g>
</svg>
</body></html>
